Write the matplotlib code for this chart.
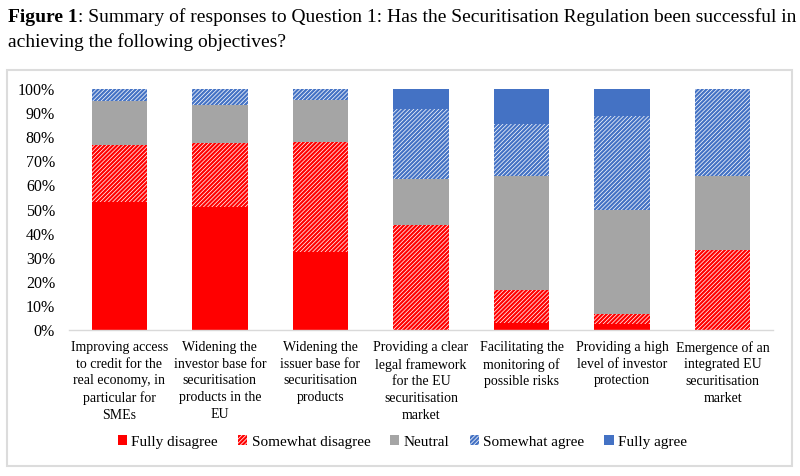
import matplotlib
matplotlib.use("Agg")
import matplotlib.pyplot as plt
from matplotlib.patches import Patch, Rectangle
import numpy as np

plt.rcParams['font.family'] = ['Liberation Serif', 'DejaVu Serif']
plt.rcParams['hatch.linewidth'] = 1.6

categories = [
    "Improving access\nto credit for the\nreal economy, in\nparticular for\nSMEs",
    "Widening the\ninvestor base for\nsecuritisation\nproducts in the\nEU",
    "Widening the\nissuer base for\nsecuritisation\nproducts",
    "Providing a clear\nlegal framework\nfor the EU\nsecuritisation\nmarket",
    "Facilitating the\nmonitoring of\npossible risks",
    "Providing a high\nlevel of investor\nprotection",
    "Emergence of an\nintegrated EU\nsecuritisation\nmarket",
]
series_names = ["Fully disagree", "Somewhat disagree", "Neutral", "Somewhat agree", "Fully agree"]
fully_disagree = [53.3, 51.0, 32.4, 0.0, 2.8, 2.3, 0.0]
somewhat_disagree = [23.4, 26.6, 45.8, 43.5, 13.6, 4.4, 33.1]
neutral = [18.4, 15.6, 17.2, 19.0, 47.5, 43.0, 30.8]
somewhat_agree = [4.9, 6.8, 4.6, 29.2, 21.7, 39.3, 36.1]
fully_agree = [0.0, 0.0, 0.0, 8.3, 14.4, 11.0, 0.0]
yticks = [0, 10, 20, 30, 40, 50, 60, 70, 80, 90, 100]

series = [fully_disagree, somewhat_disagree, neutral, somewhat_agree, fully_agree]
colors = ["#FF0000", "#FF0000", "#A5A5A5", "#4472C4", "#4472C4"]
hatches = [None, "////////", None, "////////", None]

fig = plt.figure(figsize=(8, 4.76), dpi=100)
ax = fig.add_axes([69/800, 1-330/476, 704/800, 241/476])

x = np.arange(len(categories))
bottom = np.zeros(len(categories))
for name, vals, c, h in zip(series_names, series, colors, hatches):
    vals = np.array(vals)
    if h is None:
        ax.bar(x, vals, 0.55, bottom=bottom, color=c, linewidth=0, label=name)
    else:
        ax.bar(x, vals, 0.55, bottom=bottom, facecolor="white", edgecolor=c,
               hatch=h, linewidth=0, label=name)
    bottom += vals

ax.set_xlim(-0.5, len(categories) - 0.5)
ax.set_ylim(0, 100)
ax.set_yticks(yticks)
ax.set_yticklabels([f"{t}%" for t in yticks], fontsize=11.5)
ax.set_xticks(x)
ax.set_xticklabels(categories, fontsize=10, linespacing=1.36)
ax.tick_params(axis='both', length=0)
ax.tick_params(axis='y', pad=10)
ax.tick_params(axis='x', pad=8)
for s in ['top', 'right', 'left']:
    ax.spines[s].set_visible(False)
ax.spines['bottom'].set_color('#d9d9d9')
ax.spines['bottom'].set_linewidth(1.0)

handles = []
for name, c, h in zip(series_names, colors, hatches):
    if h is None:
        handles.append(Patch(facecolor=c, edgecolor=c, linewidth=0, label=name))
    else:
        handles.append(Patch(facecolor="white", edgecolor=c, hatch=h, linewidth=0, label=name))
fig.legend(handles=handles, loc='center', bbox_to_anchor=(0.503, 1-442/476), ncol=5,
           frameon=False, fontsize=11, handlelength=0.6, handleheight=0.6,
           handletextpad=0.3, columnspacing=1.3)

# outer border
fig.patches.append(Rectangle((7/800, 1-466/476), 785/800, 396/476, transform=fig.transFigure,
                             fill=False, edgecolor='#dcdcdc', linewidth=1.5))

# title
t1 = fig.text(8/800, 1-22/476, "Figure 1", fontsize=14, fontweight='bold', va='baseline')
fig.canvas.draw()
bb = t1.get_window_extent()
fig.text(bb.x1/800, 1-22/476, ": Summary of responses to Question 1: Has the Securitisation Regulation been successful in",
         fontsize=14, va='baseline')
fig.text(8/800, 1-47/476, "achieving the following objectives?", fontsize=14, va='baseline')

fig.savefig("out.png", dpi=100)
